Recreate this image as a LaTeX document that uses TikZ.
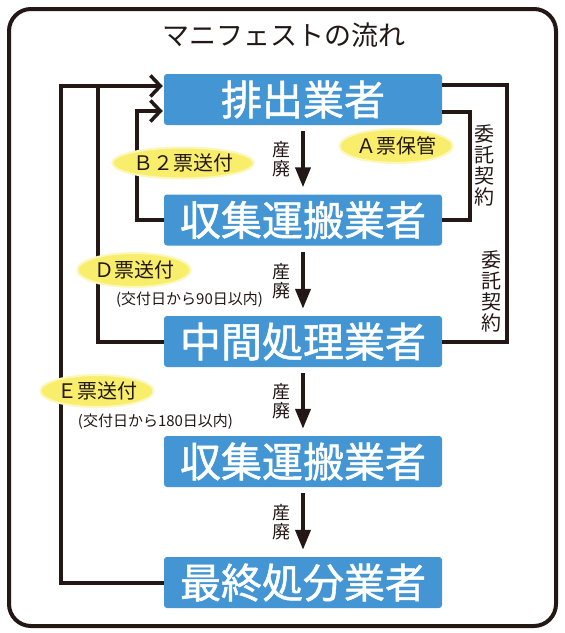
\documentclass[tikz,border=0pt]{standalone}
\usepackage{fontspec}
\usetikzlibrary{arrows.meta,calc,shapes.geometric}
\newfontfamily\jp{Noto Sans CJK JP}
\newfontfamily\jpb[FakeBold=1.2]{Noto Sans CJK JP}
\definecolor{ink}{HTML}{231815}
\definecolor{boxblue}{HTML}{4396D3}
\definecolor{ylw}{HTML}{F9EE6B}
\begin{document}
\begin{tikzpicture}[x=1pt,y=-1pt,
  stagebox/.style={rectangle,rounded corners=3pt,fill=boxblue,text=white,
    minimum width=278pt,minimum height=51pt,inner sep=0pt,
    font=\jpb\fontsize{41}{41}\selectfont},
  conn/.style={draw=ink,line width=4pt},
  barb/.style={-{Straight Barb[length=10pt,width=21pt,line width=3.5pt]}},
  flow/.style={draw=ink,line width=4pt,-{Triangle[length=20pt,width=15pt]}},
  sanpai/.style={text=ink,align=center,inner sep=0pt,
    font=\jp\fontsize{18}{19.5}\selectfont},
  vlabel/.style={text=ink,align=center,inner sep=0pt,
    font=\jp\fontsize{20}{21}\selectfont},
  ticket/.style={ellipse,fill=ylw,draw=ylw!45!white,line width=2pt,inner sep=0pt,
    text=ink,font=\jp\fontsize{20}{20}\selectfont},
  note/.style={text=ink,inner sep=0pt,font=\jp\fontsize{15}{15}\selectfont}
]
\useasboundingbox (0,0) rectangle (565,633);
\fill[white] (0,0) rectangle (565,633);
\draw[ink,line width=4pt,rounded corners=22pt] (9,9) rectangle (556,626);
\node[text=ink,font=\jp\fontsize{27}{27}\selectfont] (title) at (284,35) {マニフェストの流れ};

\node[stagebox] (b1) at (303,99.5) {排出業者};
\node[stagebox] (b2) at (303,220) {収集運搬業者};
\node[stagebox] (b3) at (303,341.5) {中間処理業者};
\node[stagebox] (b4) at (303,461.5) {収集運搬業者};
\node[stagebox] (b5) at (303,582.5) {最終処分業者};

% vertical flow arrows
\draw[flow] ($(b1.south)+(0,6)$) -- ($(b2.north)+(0,-7)$);
\draw[flow] ($(b2.south)+(0,6)$) -- ($(b3.north)+(0,-7)$);
\draw[flow] ($(b3.south)+(0,6)$) -- ($(b4.north)+(0,-7)$);
\draw[flow] ($(b4.south)+(0,6)$) -- ($(b5.north)+(0,-7)$);
\node[sanpai] (s1) at (281,159) {産\\廃};
\node[sanpai] (s2) at (281,281) {産\\廃};
\node[sanpai] (s3) at (281,401) {産\\廃};
\node[sanpai] (s4) at (281,522) {産\\廃};

% left return lines
\coordinate (eCorner) at (61,86);
\coordinate (dCorner) at (98,86);
\coordinate (bCorner) at (137,111);
\draw[conn,barb,shorten >=1pt] (b5.west) -| (eCorner) -- (b1.west |- eCorner);
\draw[conn] (b3.west) -| (dCorner);
\draw[conn,barb,shorten >=1pt] (b2.west) -| (bCorner) -- (b1.west |- bCorner);

% right contract lines
\coordinate (c1) at (470,112);
\coordinate (c2) at (507,85);
\draw[conn] (b1.east |- c1) -- (c1) |- (b2.east);
\draw[conn] (b1.east |- c2) -- (c2) |- (b3.east);
\node[vlabel] (k1) at (484,165) {委\\託\\契\\約};
\node[vlabel] (k2) at (491,291.5) {委\\託\\契\\約};

% tickets
\node[ticket,minimum width=103pt,minimum height=34pt] (tA) at (396,146) {Ａ票保管};
\node[ticket,minimum width=127pt,minimum height=31pt] (tB) at (183,163) {Ｂ２票送付};
\node[ticket,minimum width=105pt,minimum height=34pt] (tD) at (134,270) {Ｄ票送付};
\node[ticket,minimum width=103pt,minimum height=32pt] (tE) at (97,391) {Ｅ票送付};
\node[note] (nD) at (189.5,300) {(交付日から90日以内)};
\node[note] (nE) at (155.5,422) {(交付日から180日以内)};
\end{tikzpicture}
\end{document}
